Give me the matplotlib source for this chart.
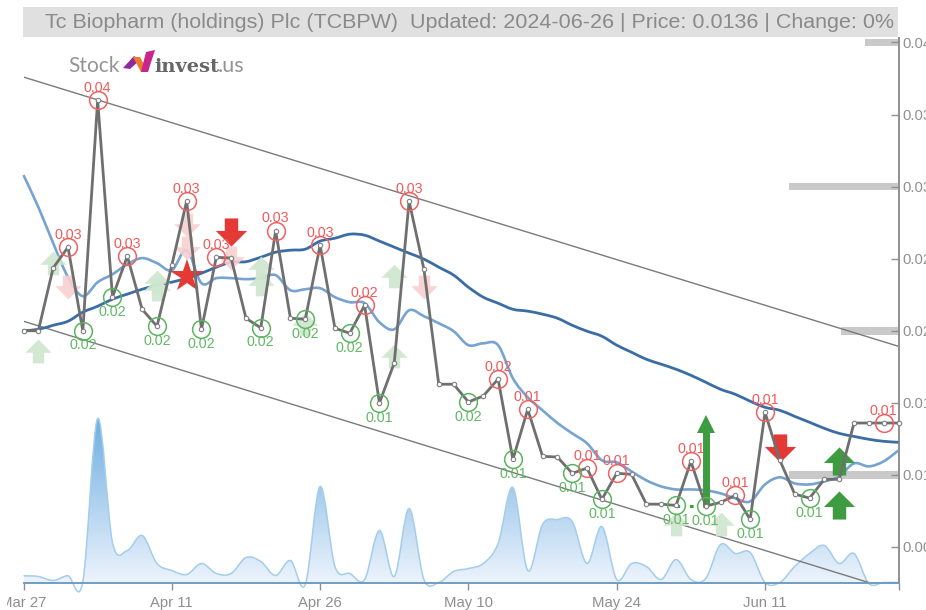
import numpy as np
import matplotlib
matplotlib.use('Agg')
import matplotlib.pyplot as plt
from matplotlib.path import Path
from matplotlib.patches import PathPatch, Polygon, Rectangle
from matplotlib.colors import LinearSegmentedColormap
from matplotlib.transforms import Affine2D, Bbox

plt.rcParams['font.family'] = ['Liberation Sans', 'DejaVu Sans']

title = 'Tc Biopharm (holdings) Plc (TCBPW)  Updated: 2024-06-26 | Price: 0.0136 | Change: 0%'

price = [.0200, .0200, .02436, .0258, .0200, .0360, .02233, .02517, .02149, .02031,
         .02455, .02899, .02010, .02510, .02504, .02087, .02020, .02693, .02087, .0208,
         .02594, .02017, .01983, .02177, .01499, .01777, .02899, .02427, .01629, .01629,
         .01506, .01547, .01665, .01108, .01455, .01129, .01124, .01011, .01047, .0083,
         .01011, .01004, .00797, .00797, .00788, .01094, .00784, .00809, .00858, .00691,
         .01434, .01101, .00867, .00839, .00969, .00969, .0136, .0136, .0136, .0136]

ma_long = [.0200, .0201, .02038, .02066, .02129, .0217, .02219, .02254, .02288, .02316,
           .02337, .02365, .02399, .02441, .02476, .02479, .0251, .02545, .02559, .02566,
           .02622, .02642, .0267, .02663, .02622, .0258, .02538, .02497, .02441, .02386,
           .02302, .02233, .02191, .02149, .02136, .02115, .02087, .02038, .01997, .01962,
           .019, .01851, .01802, .01768, .01733, .01691, .01643, .01594, .01559, .01511,
           .01469, .01448, .01406, .01365, .01323, .01288, .01267, .01247, .01233, .01226]

ma_short = [.0308, .02858, .02608, .02372, .0224, .02337, .02392, .02462, .02504, .02469,
            .0242, .02559, .0233, .02365, .02365, .02358, .02365, .02386, .02281, .02288,
            .02295, .02233, .02198, .02191, .02059, .0201, .02142, .02101, .02052, .01997,
            .019, .01913, .019, .0167, .01538, .01448, .0136, .01288, .01219, .01101,
            .01087, .01024, .00962, .0092, .00899, .00899, .00893, .00872, .00837, .00816,
            .00934, .00983, .00941, .00934, .00955, .0099, .0108, .01059, .01094, .0117]

volume = [6.7, 6, 2, 6.7, 1, 164, 40, 32, 47, 19,
          12, 8, 19, 9, 9, 25, 21, 7, 22, -2,
          96, 16, 9, 3, 52, 6, 74, 3, 0, 11,
          14, 19, 39, 95, 12, 58, 63, 61, 19, 56,
          3, 19, 16, 3, 23, 3, 4, 38, 29, 30,
          0, 0, 16, 29, 37, 19, 29, -1, 0, 0]

high_idx = [3, 5, 7, 11, 13, 17, 20, 23, 26, 32, 34, 38, 40, 45, 48, 50, 58]
high_lbl = ['0.03', '0.04', '0.03', '0.03', '0.03', '0.03', '0.03', '0.02', '0.03',
            '0.02', '0.01', '0.01', '0.01', '0.01', '0.01', '0.01', '0.01']
low_idx = [4, 6, 9, 12, 16, 19, 22, 24, 30, 33, 37, 39, 44, 46, 49, 53]
low_lbl = ['0.02', '0.02', '0.02', '0.02', '0.02', '0.02', '0.02', '0.01', '0.02',
           '0.01', '0.01', '0.01', '0.01', '0.01', '0.01', '0.01']

# arrows: (index, price)
soft_up = [(1, .01863), (2, .02472), (9, .02337), (9, .02288), (16, .02434), (16, .02327),
           (19, .0205), (25, .01826), (25, .02378), (44, .00659), (47, .00659)]
soft_down = [(3, .02302), (11, .02736), (11, .02573), (14, .02504), (27, .02302)]
hard_up = [(55, .01094), (55, .00788)]
hard_down = [(14, .02684), (51, .01184)]
star = (11, .0238)
tall_arrow = (46, .00784, .01351)
dash_level = (44, 46, .00784)

# gray bars on the right, price level and length in days
bar_levels = [.04, .03, .02, .01]
bar_lengths = [2.26, 7.35, 3.9, 7.35]

upper_channel = ([0, 59], [.0376, .01892])
lower_channel = ([0, 57], [.02066, .00253])

tick_idx = [0, 10, 20, 30, 40, 50, 59]
tick_lbl = ['Mar 27', 'Apr 11', 'Apr 26', 'May 10', 'May 24', 'Jun 11', '']
ytick_val = [.04, .035, .03, .025, .02, .015, .01, .005]


def smooth(x, y):
    # catmull-rom through the points, as bezier segments
    pts = np.column_stack([x, y]).astype(float)
    p = np.vstack([pts[0], pts, pts[-1]])
    verts = [pts[0]]
    for i in range(1, len(p) - 2):
        verts.append(p[i] + (p[i + 1] - p[i - 1]) / 6)
        verts.append(p[i + 1] - (p[i + 2] - p[i]) / 6)
        verts.append(p[i + 1])
    codes = [Path.MOVETO] + [Path.CURVE4] * (len(verts) - 1)
    return np.array(verts), codes


up_marker = Path([(-.43, -.9), (.43, -.9), (.43, -.1), (1, -.1), (0, .9), (-1, -.1), (-.43, -.1), (-.43, -.9)], closed=True)
down_marker = Path([(-.43, .9), (.43, .9), (.43, .1), (1, .1), (0, -.9), (-1, .1), (-.43, .1), (-.43, .9)], closed=True)

days = np.arange(len(price))
W, H = 926, 610
fig = plt.figure(figsize=(9.26, 6.1), dpi=100)
rect = [23.5 / W, (H - 582.5) / H, 875 / W, 544.5 / H]

# volume goes underneath
ax_vol = fig.add_axes(rect)
ax_vol.axis('off')
ax_vol.set_xlim(0, 59)
ax_vol.set_ylim(0, 544.5)
verts, codes = smooth(days, volume)
area_verts = np.vstack([verts, [59, 0], [0, 0], verts[0]])
area_codes = codes + [Path.LINETO, Path.LINETO, Path.CLOSEPOLY]
area = PathPatch(Path(area_verts, area_codes), facecolor='none', edgecolor='none')
ax_vol.add_patch(area)
cmap = LinearSegmentedColormap.from_list('vol', ['#ecf3fc', '#6eaee0'])
img = ax_vol.imshow(np.linspace(1, 0, 200).reshape(-1, 1), cmap=cmap, aspect='auto',
                    extent=[0, 59, 0, 164], vmin=0, vmax=1)
img.set_clip_path(area)
ax_vol.set_xlim(0, 59)
ax_vol.set_ylim(0, 544.5)
ax_vol.add_patch(PathPatch(Path(verts, codes), facecolor='none', edgecolor='#a3cdec', lw=1.1, clip_on=False))

ax = fig.add_axes(rect)
ax.patch.set_visible(False)
ax.set_xlim(0, 59)
ax.set_ylim(.002535, .04031)

ax.barh(bar_levels, [-b for b in bar_lengths], left=59, height=.00052, color='#c9c9c9', zorder=1)

ax.plot(*upper_channel, color='#7a7a7a', lw=1, zorder=2)
ax.plot(*lower_channel, color='#7a7a7a', lw=1, zorder=2)

verts, codes = smooth(days, ma_short)
ax.add_patch(PathPatch(Path(verts, codes), facecolor='none', edgecolor='#76a3d0', lw=1.9, zorder=3, clip_on=False))
verts, codes = smooth(days, ma_long)
ax.add_patch(PathPatch(Path(verts, codes), facecolor='none', edgecolor='#3b6da5', lw=2, zorder=3, clip_on=False))

for i, p in soft_up:
    ax.plot(i, p, marker=up_marker, ms=19, color='#cfe6cf', mew=0, alpha=.9, zorder=4)
for i, p in soft_down:
    ax.plot(i, p, marker=down_marker, ms=19, color='#f8d0d0', mew=0, alpha=.9, zorder=4)
for i, p in hard_up:
    ax.plot(i, p, marker=up_marker, ms=22.5, color='#3f9b40', mew=0, zorder=5)
for i, p in hard_down:
    ax.plot(i, p, marker=down_marker, ms=22.5, color='#e53935', mew=0, zorder=5)
ax.plot(star[0], star[1], marker='*', ms=25, color='#e53935', mew=0, zorder=5)

ax.plot([tall_arrow[0]] * 2, tall_arrow[1:], color='#3f9b40', lw=5, solid_capstyle='butt', zorder=5)
ax.plot(tall_arrow[0], tall_arrow[2], marker='^', ms=13.5, color='#3f9b40', mew=0, zorder=5)
ax.plot(dash_level[:2], [dash_level[2]] * 2, color='#3f9b40', lw=2.2, ls=(0, (1.2, 3.2)), zorder=5)

ax.plot(days, price, color='#6f6f6f', lw=2, zorder=6, clip_on=False)
ax.plot(days, price, ls='none', marker='o', ms=3.2, mfc='white', mec='#808080', mew=.8, zorder=7, clip_on=False)

for i, lbl in zip(high_idx, high_lbl):
    ax.plot(i, price[i], marker='o', ms=12.8, mfc='none', mec='#f06060', mew=1.1, zorder=8)
    ax.annotate(lbl, (i, price[i]), xytext=(0, 9), textcoords='offset points', ha='center', va='center',
                fontsize=10.3, color='#f05a5a', zorder=9)
for i, lbl in zip(low_idx, low_lbl):
    ax.plot(i, price[i], marker='o', ms=12.8, mfc='none', mec='#5cb35f', mew=1.1, zorder=8)
    ax.annotate(lbl, (i, price[i]), xytext=(0, -10.5), textcoords='offset points', ha='center', va='center',
                fontsize=10.3, color='#62b865', zorder=9)

for s in ['left', 'top']:
    ax.spines[s].set_visible(False)
ax.spines['right'].set_color('#8f8f8f')
ax.spines['right'].set_linewidth(1.4)
ax.spines['bottom'].set_color('#6f9dc2')
ax.spines['bottom'].set_linewidth(1.4)

ax.yaxis.tick_right()
ax.set_yticks(ytick_val)
ax.set_yticklabels(['%g' % v for v in ytick_val])
ax.tick_params(axis='y', direction='in', length=6, width=1, color='#8f8f8f', labelcolor='#8f8f8f',
               labelsize=10.6, pad=3)
ax.set_xticks(tick_idx)
ax.set_xticklabels(tick_lbl)
ax.tick_params(axis='x', direction='out', length=5, width=1, color='#8f8f8f', labelcolor='#8f8f8f',
               labelsize=10.7, pad=5)
for lab in ax.get_xticklabels():
    lab.set_clip_on(True)
    lab.set_clip_box(Bbox([[7, 0], [W, H]]))

# title strip and logo, placed in pixels
px = Affine2D().scale(1, -1).translate(0, H)
fig.add_artist(Rectangle((23, 7), 875, 30, transform=px, facecolor='#e0e0e0', edgecolor='none'))
fig.text(45 / W, 1 - 23 / H, title, fontsize=15.46, color='#8a8a8a', ha='left', va='center')

fig.text(68 / W, 1 - 71.5 / H, 'Stock', family='Lato', fontsize=15, color='#949494', ha='left', va='baseline')
fig.text(154 / W, 1 - 71.5 / H, 'invest', family='DejaVu Serif', weight='bold', fontsize=14, color='#666666',
         ha='left', va='baseline')
fig.text(218 / W, 1 - 71.5 / H, '.us', family='Lato', fontsize=15.5, color='#949494', ha='left', va='baseline')
fig.add_artist(Polygon([(123, 68), (134, 56), (140, 60), (130, 69)], transform=px, color='#8e2a9e', lw=0))
fig.add_artist(Polygon([(133, 57), (140, 57), (148, 72), (141, 72)], transform=px, color='#f0782a', lw=0))
fig.add_artist(Polygon([(141, 72), (148, 72), (155, 50), (146, 52)], transform=px, color='#c8268c', lw=0))

fig.savefig('out.png', dpi=100)
